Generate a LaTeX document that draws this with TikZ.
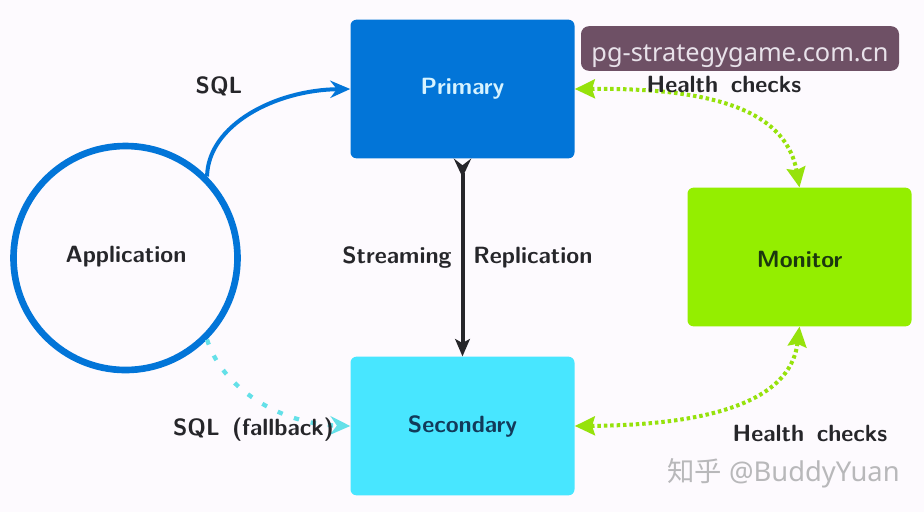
\documentclass[tikz,border=0pt]{standalone}
\usepackage{fontspec}
\newfontfamily\wmfont{Noto Sans}
\newfontfamily\cjkfont{Noto Sans CJK SC}
\usetikzlibrary{arrows.meta}
\definecolor{pagebg}{RGB}{253,250,254}
\definecolor{primblue}{RGB}{2,117,216}
\definecolor{secocyan}{RGB}{72,230,255}
\definecolor{monigreen}{RGB}{148,238,0}
\definecolor{linkgreen}{RGB}{150,226,12}
\definecolor{fallcyan}{RGB}{100,224,232}
\definecolor{inkdark}{RGB}{38,38,42}
\definecolor{wmbox}{RGB}{110,80,101}
\tikzset{
  boxnode/.style={rectangle,rounded corners=4.5pt,minimum width=168pt,minimum height=104pt,inner sep=0pt},
  lab/.style={inner sep=0.75pt,text=inkdark,font=\fontsize{17.6}{20}\sffamily\bfseries},
  greenlink/.style={line width=3pt,color=linkgreen,dash pattern={on 2.6pt off 2.2pt},{Stealth[length=15pt,width=14pt,inset=2pt]}-{Stealth[length=15pt,width=14pt,inset=2pt]}},
}
\begin{document}
\begin{tikzpicture}[x=0.75pt,y=0.75pt,yscale=-1,xscale=1]
\useasboundingbox (0,0) rectangle (924,512);
\fill [pagebg] (0,0) rectangle (924,512);

% Boxes
\draw (462.5,89) node (primary) [boxnode,fill=primblue] {};
\draw (462.5,426) node (secondary) [boxnode,fill=secocyan] {};
\draw (799.5,257) node (monitor) [boxnode,fill=monigreen] {};
\draw (125.5,258) node (app) [circle,draw=primblue,line width=5pt,minimum size=168pt,inner sep=0pt] {};

% Connectors
\draw [color=primblue,line width=3pt,-{Stealth[length=15pt,width=13pt,inset=5pt]}] (app.45) .. controls (208,125) and (275,90) .. (primary.west);
\draw [color=fallcyan,line width=3.2pt,dash pattern={on 4pt off 9pt},-{Stealth[length=15pt,width=14pt,inset=5pt]}] (app.-45) .. controls (222,388) and (280,424) .. (secondary.west);
\draw [color=inkdark,line width=3pt,{Stealth[length=14pt,width=13pt,inset=5pt,reversed]}-{Stealth[length=13pt,width=11pt,inset=3pt]}] (primary.south) -- (secondary.north);
\draw [greenlink] (primary.east) .. controls (700,88) and (785,105) .. (monitor.north);
\draw [greenlink] (secondary.east) .. controls (700,425) and (790,405) .. (monitor.south);

% Text Node
\draw (462.5,89) node (primarylab) [lab,text={rgb,255:red,214;green,243;blue,255}] {Primary};
\draw (462.5,426) node (secondarylab) [lab,text={rgb,255:red,18;green,58;blue,90}] {Secondary};
\draw (799.5,259) node (monitorlab) [lab,text={rgb,255:red,28;green,56;blue,14}] {Monitor};
\draw (126,257) node (applab) [lab] {Application};
\draw (219,86.5) node (sqllab) [lab] {SQL};
\draw (253.5,430) node (falllab) [lab] {SQL\ \,(fallback)};
\draw (397,257.5) node (streamlab) [lab] {Streaming};
\draw (533,257.5) node (repllab) [lab] {Replication};
\draw (724,84) node (healthup) [lab] {Health\ \,checks};
\draw (810,433) node (healthdown) [lab] {Health\ \,checks};

% Overlay marks
\draw (740,48.5) node (wmark) [fill=wmbox,rounded corners=6pt,minimum width=238.5pt,minimum height=33.5pt,inner sep=0pt,text={rgb,255:red,232;green,226;blue,234},font=\fontsize{19}{20}\wmfont] {\raisebox{-9.5pt}[0pt][0pt]{pg-strategygame.com.cn}};
\draw (783.5,473) node (zhihu) [inner sep=0pt,text={rgb,255:red,184;green,184;blue,186},font=\fontsize{20.5}{22}\wmfont] {{\cjkfont 知乎}\ @BuddyYuan};

\end{tikzpicture}
\end{document}
